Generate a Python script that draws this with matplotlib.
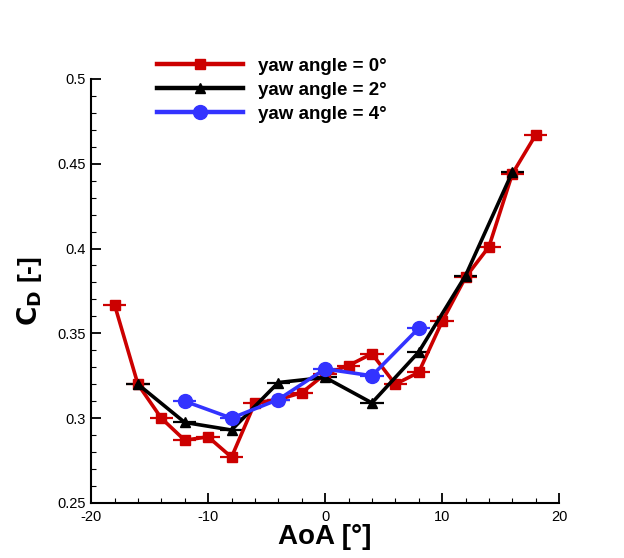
import matplotlib
matplotlib.use("Agg")
import matplotlib.pyplot as plt
from matplotlib.ticker import MultipleLocator

plt.rcParams['font.family'] = ['Liberation Sans', 'DejaVu Sans']
plt.rcParams['axes.unicode_minus'] = False

# Data
aoa_0 = [-18, -16, -14, -12, -10, -8, -6, -4, -2, 0, 2, 4, 6, 8, 10, 12, 14, 16, 18]
cd_0 = [0.367, 0.320, 0.300, 0.287, 0.289, 0.277, 0.309, 0.311, 0.315, 0.326,
        0.331, 0.338, 0.320, 0.327, 0.357, 0.383, 0.401, 0.444, 0.467]

aoa_2 = [-16, -12, -8, -4, 0, 4, 8, 12, 16]
cd_2 = [0.320, 0.2975, 0.293, 0.321, 0.324, 0.309, 0.339, 0.384, 0.445]

aoa_4 = [-12, -8, -4, 0, 4, 8]
cd_4 = [0.310, 0.300, 0.311, 0.329, 0.325, 0.353]

labels = ["yaw angle = 0°", "yaw angle = 2°", "yaw angle = 4°"]
xerr_val = 1.0

fig = plt.figure(figsize=(6.24, 5.58), dpi=100)
ax = fig.add_axes([0.146, 0.0986, 0.75, 0.76])

series = [
    (aoa_0, cd_0, '#CC0000', 's', 7.5, labels[0]),
    (aoa_2, cd_2, 'black', '^', 7.5, labels[1]),
    (aoa_4, cd_4, '#3333FF', 'o', 10, labels[2]),
]
for x, y, c, m, ms, lab in series:
    ax.errorbar(x, y, xerr=xerr_val, fmt='none', ecolor=c, elinewidth=1.6, capsize=0, zorder=2)
    ax.plot(x, y, color=c, marker=m, markersize=ms, linewidth=2.6, label=lab, zorder=3)

ax.set_xlim(-20, 20)
ax.set_ylim(0.25, 0.5)
ax.set_xticks([-20, -10, 0, 10, 20])
ax.set_yticks([0.25, 0.3, 0.35, 0.4, 0.45, 0.5])
ax.set_yticklabels(['0.25', '0.3', '0.35', '0.4', '0.45', '0.5'])
ax.xaxis.set_minor_locator(MultipleLocator(2))
ax.yaxis.set_minor_locator(MultipleLocator(0.01))
ax.tick_params(which='major', direction='in', length=7, width=1.3, labelsize=10.5)
ax.tick_params(which='minor', direction='in', length=3.5, width=0.8)
ax.tick_params(axis='x', pad=5)
for s in ['top', 'right']:
    ax.spines[s].set_visible(False)
for s in ['left', 'bottom']:
    ax.spines[s].set_linewidth(1.5)

ax.set_xlabel('AoA [°]', fontsize=20, fontweight='bold', labelpad=0)
ax.set_ylabel(r'$\mathbf{C_D}$ [-]', fontsize=19, fontweight='bold', labelpad=10)

leg = ax.legend(loc='upper left', bbox_to_anchor=(0.141, 1.050), frameon=False,
                prop={'weight': 'bold', 'size': 13.5}, handlelength=4.6,
                borderpad=0, borderaxespad=0, labelspacing=0.36, handletextpad=0.8,
                numpoints=1)
for h in leg.legend_handles:
    h.set_linewidth(3.2)

fig.savefig('out.png', dpi=100)
